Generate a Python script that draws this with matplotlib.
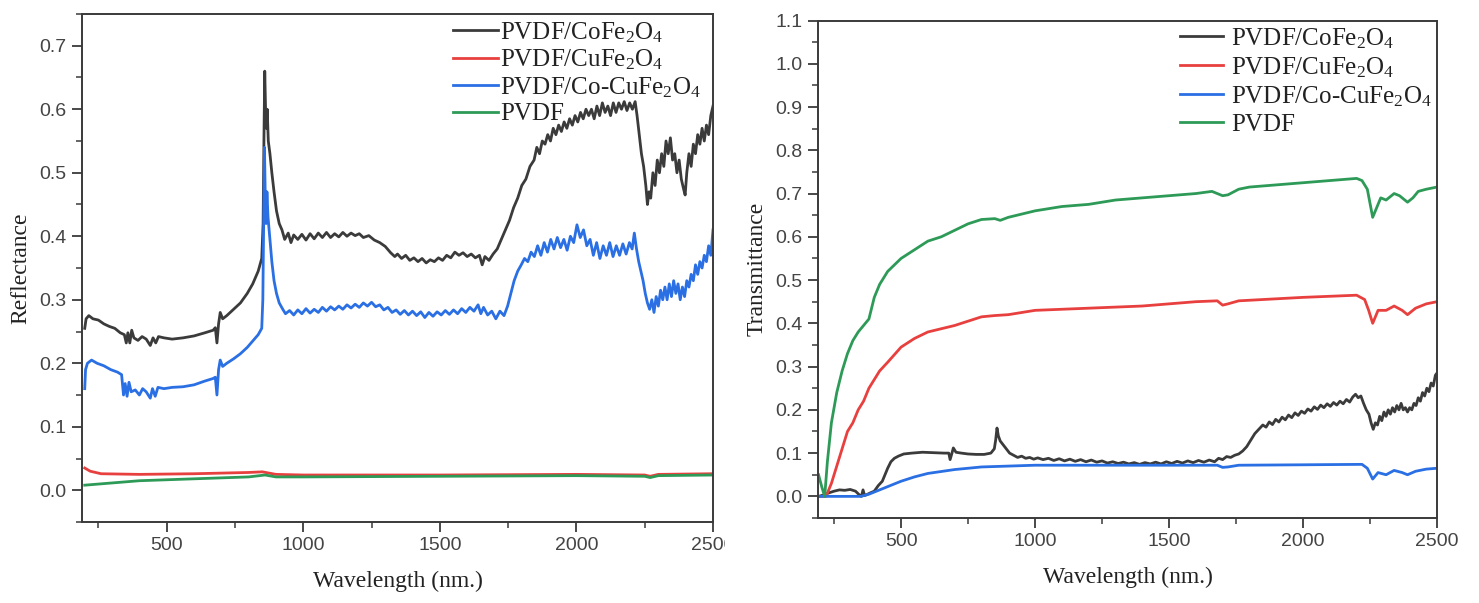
import numpy as np
import matplotlib
matplotlib.use("Agg")
import matplotlib.pyplot as plt
from matplotlib.ticker import MultipleLocator
from matplotlib.transforms import Bbox

plt.rcParams["mathtext.fontset"] = "custom"
plt.rcParams["mathtext.rm"] = "Liberation Serif"
plt.rcParams["mathtext.it"] = "Liberation Serif:italic"

labels = ["PVDF/CoFe$_2$O$_4$", "PVDF/CuFe$_2$O$_4$", "PVDF/Co-CuFe$_2$O$_4$", "PVDF"]
colors = ["#3b3b3b", "#e8403f", "#2a6fe3", "#2e9a57"]

# ---- reflectance spectra ----
refl_co_x = [200, 205, 215, 230, 250, 270, 290, 310, 330, 345, 352, 358, 365, 372, 380, 395, 410, 425, 440, 450,
             460, 470, 490, 520, 560, 600, 640, 670, 678, 684, 690, 696, 705, 720, 745, 770, 795, 815, 835, 848,
             853, 856, 859, 862, 865, 868, 872, 878, 885, 893, 902, 912, 922, 932, 945, 955, 965, 980, 995, 1010,
             1025, 1040, 1055, 1070, 1085, 1100, 1115, 1130, 1145, 1160, 1175, 1190, 1205, 1220, 1240, 1260, 1280,
             1300, 1320, 1335, 1345, 1360, 1375, 1390, 1405, 1420, 1435, 1450, 1465, 1480, 1495, 1510, 1525, 1540,
             1555, 1570, 1585, 1600, 1615, 1630, 1645, 1655, 1665, 1680, 1695, 1710, 1725, 1740, 1755, 1770, 1785,
             1800, 1815, 1830, 1845, 1855, 1865, 1875, 1885, 1895, 1905, 1915, 1925, 1935, 1945, 1955, 1965, 1975,
             1985, 1995, 2005, 2015, 2025, 2035, 2045, 2055, 2065, 2075, 2085, 2095, 2105, 2115, 2125, 2135, 2145,
             2155, 2165, 2175, 2185, 2195, 2205, 2215, 2222, 2230, 2238, 2246, 2254, 2260, 2266, 2272, 2280, 2288,
             2296, 2304, 2312, 2320, 2328, 2336, 2344, 2352, 2360, 2368, 2376, 2384, 2392, 2398, 2404, 2412, 2420,
             2428, 2436, 2444, 2452, 2460, 2468, 2476, 2484, 2492, 2500]
refl_co_y = [0.255, 0.27, 0.275, 0.27, 0.268, 0.262, 0.258, 0.255, 0.248, 0.245, 0.232, 0.248, 0.232, 0.252, 0.24,
             0.236, 0.242, 0.238, 0.228, 0.24, 0.232, 0.242, 0.24, 0.238, 0.24, 0.243, 0.248, 0.252, 0.256, 0.232,
             0.262, 0.28, 0.27, 0.275, 0.285, 0.295, 0.31, 0.325, 0.345, 0.365, 0.42, 0.55, 0.66, 0.6, 0.57, 0.6,
             0.55, 0.53, 0.5, 0.47, 0.44, 0.42, 0.41, 0.395, 0.405, 0.39, 0.402, 0.395, 0.403, 0.394, 0.404, 0.396,
             0.405, 0.398, 0.406, 0.398, 0.404, 0.399, 0.406, 0.4, 0.405, 0.401, 0.404, 0.398, 0.401, 0.394, 0.39,
             0.384, 0.374, 0.368, 0.372, 0.365, 0.37, 0.362, 0.366, 0.36, 0.365, 0.358, 0.363, 0.36, 0.366, 0.362,
             0.37, 0.366, 0.375, 0.37, 0.374, 0.368, 0.372, 0.366, 0.37, 0.355, 0.368, 0.362, 0.372, 0.38, 0.395,
             0.41, 0.425, 0.445, 0.46, 0.48, 0.49, 0.51, 0.52, 0.54, 0.53, 0.55, 0.545, 0.56, 0.55, 0.57, 0.56,
             0.575, 0.565, 0.58, 0.57, 0.585, 0.575, 0.59, 0.58, 0.595, 0.585, 0.6, 0.59, 0.6, 0.585, 0.605, 0.59,
             0.61, 0.595, 0.605, 0.59, 0.61, 0.595, 0.61, 0.6, 0.612, 0.598, 0.61, 0.6, 0.612, 0.59, 0.56, 0.53,
             0.51, 0.48, 0.45, 0.47, 0.46, 0.5, 0.48, 0.52, 0.5, 0.53, 0.51, 0.55, 0.53, 0.555, 0.52, 0.53, 0.5,
             0.52, 0.49, 0.475, 0.465, 0.5, 0.53, 0.51, 0.545, 0.53, 0.56, 0.545, 0.57, 0.55, 0.575, 0.56, 0.59,
             0.605]

refl_cu_x = [200, 220, 260, 400, 600, 800, 850, 900, 1000, 1500, 2000, 2250, 2270, 2300, 2500]
refl_cu_y = [0.035, 0.03, 0.026, 0.025, 0.026, 0.028, 0.029, 0.025, 0.024, 0.024, 0.025, 0.024, 0.022, 0.025, 0.026]

refl_coco_x = [200, 203, 210, 225, 245, 270, 295, 320, 335, 342, 348, 355, 362, 370, 385, 400, 412, 425, 440, 448,
               458, 468, 490, 520, 560, 600, 640, 670, 678, 684, 690, 696, 705, 720, 745, 770, 795, 815, 835, 848,
               852, 855, 858, 861, 864, 867, 871, 877, 885, 893, 902, 912, 925, 935, 950, 965, 980, 995, 1010,
               1025, 1040, 1055, 1070, 1085, 1100, 1115, 1130, 1145, 1160, 1175, 1190, 1205, 1220, 1235, 1250,
               1265, 1280, 1295, 1310, 1325, 1340, 1355, 1370, 1385, 1400, 1415, 1430, 1445, 1460, 1475, 1490,
               1505, 1520, 1535, 1550, 1565, 1580, 1595, 1610, 1625, 1640, 1650, 1660, 1675, 1690, 1705, 1720,
               1735, 1748, 1760, 1772, 1785, 1798, 1810, 1822, 1834, 1846, 1858, 1870, 1882, 1894, 1906, 1918,
               1930, 1942, 1954, 1966, 1978, 1990, 2002, 2014, 2026, 2038, 2050, 2062, 2074, 2086, 2098, 2110,
               2122, 2134, 2146, 2158, 2170, 2182, 2194, 2204, 2212, 2220, 2228, 2236, 2244, 2252, 2260, 2268,
               2276, 2284, 2292, 2300, 2308, 2316, 2324, 2332, 2340, 2348, 2356, 2364, 2372, 2380, 2388, 2396,
               2404, 2412, 2420, 2428, 2436, 2444, 2452, 2460, 2468, 2476, 2484, 2492, 2500]
refl_coco_y = [0.16, 0.19, 0.2, 0.205, 0.2, 0.196, 0.19, 0.186, 0.182, 0.15, 0.168, 0.148, 0.17, 0.155, 0.158, 0.15,
               0.16, 0.155, 0.145, 0.16, 0.148, 0.162, 0.16, 0.162, 0.163, 0.166, 0.172, 0.176, 0.178, 0.15, 0.19,
               0.205, 0.195, 0.2, 0.207, 0.215, 0.225, 0.235, 0.245, 0.255, 0.3, 0.42, 0.54, 0.46, 0.42, 0.47, 0.43,
               0.4, 0.36, 0.33, 0.31, 0.295, 0.285, 0.278, 0.283, 0.276, 0.284, 0.278, 0.286, 0.279, 0.285, 0.28,
               0.288, 0.282, 0.289, 0.284, 0.29, 0.285, 0.292, 0.287, 0.293, 0.288, 0.295, 0.29, 0.296, 0.289, 0.292,
               0.284, 0.288, 0.28, 0.284, 0.277, 0.283, 0.276, 0.282, 0.275, 0.281, 0.272, 0.28, 0.274, 0.281, 0.276,
               0.283, 0.277, 0.284, 0.278, 0.286, 0.28, 0.288, 0.282, 0.292, 0.278, 0.288, 0.276, 0.282, 0.27, 0.282,
               0.275, 0.29, 0.31, 0.33, 0.345, 0.355, 0.365, 0.36, 0.375, 0.368, 0.385, 0.37, 0.39, 0.375, 0.395,
               0.38, 0.398, 0.382, 0.395, 0.378, 0.4, 0.39, 0.418, 0.398, 0.41, 0.385, 0.395, 0.37, 0.39, 0.365,
               0.385, 0.37, 0.39, 0.368, 0.385, 0.37, 0.388, 0.372, 0.39, 0.38, 0.405, 0.38, 0.36, 0.345, 0.33, 0.31,
               0.295, 0.285, 0.3, 0.28, 0.305, 0.29, 0.315, 0.3, 0.32, 0.3, 0.325, 0.305, 0.33, 0.31, 0.325, 0.3,
               0.32, 0.305, 0.33, 0.32, 0.34, 0.33, 0.355, 0.34, 0.36, 0.35, 0.37, 0.36, 0.385, 0.37, 0.41]

refl_pvdf_x = [200, 400, 600, 800, 860, 900, 1000, 1500, 2000, 2250, 2270, 2300, 2500]
refl_pvdf_y = [0.008, 0.015, 0.018, 0.021, 0.024, 0.021, 0.021, 0.022, 0.023, 0.022, 0.02, 0.023, 0.024]

# ---- transmittance spectra ----
trans_co_x = [192, 210, 230, 250, 270, 290, 310, 330, 345, 352, 358, 364, 372, 385, 400, 415, 430, 440, 450, 462,
              475, 490, 510, 540, 580, 620, 660, 678, 683, 690, 695, 705, 725, 750, 780, 810, 835, 848, 853, 858,
              863, 870, 880, 892, 905, 920, 935, 950, 965, 980, 995, 1010, 1030, 1050, 1070, 1090, 1110, 1130,
              1150, 1170, 1190, 1210, 1230, 1250, 1270, 1290, 1310, 1330, 1350, 1370, 1390, 1410, 1430, 1450,
              1470, 1490, 1510, 1530, 1550, 1570, 1590, 1610, 1630, 1650, 1670, 1685, 1700, 1715, 1730, 1745,
              1760, 1775, 1790, 1805, 1820, 1835, 1850, 1862, 1874, 1886, 1898, 1910, 1922, 1934, 1946, 1958,
              1970, 1982, 1994, 2006, 2018, 2030, 2042, 2054, 2066, 2078, 2090, 2102, 2114, 2126, 2138, 2150,
              2162, 2174, 2186, 2196, 2206, 2216, 2226, 2236, 2246, 2254, 2262, 2270, 2278, 2286, 2294, 2302,
              2310, 2318, 2326, 2334, 2342, 2350, 2358, 2366, 2374, 2382, 2390, 2398, 2406, 2414, 2422, 2430,
              2438, 2446, 2454, 2462, 2470, 2478, 2486, 2494, 2500]
trans_co_y = [0.0, 0.003, 0.008, 0.012, 0.015, 0.014, 0.016, 0.012, 0.003, 0.0, 0.015, 0.002, 0.004, 0.008, 0.012,
              0.025, 0.035, 0.05, 0.065, 0.08, 0.088, 0.093, 0.098, 0.1, 0.102, 0.101, 0.1, 0.1, 0.085, 0.1, 0.112,
              0.102, 0.1, 0.098, 0.097, 0.097, 0.1, 0.11, 0.13, 0.158, 0.14, 0.128, 0.12, 0.11, 0.1, 0.095, 0.09,
              0.093, 0.088, 0.09, 0.086, 0.089, 0.085, 0.088, 0.083, 0.087, 0.082, 0.086, 0.081, 0.085, 0.08, 0.084,
              0.079, 0.082, 0.077, 0.08, 0.076, 0.079, 0.075, 0.078, 0.074, 0.078, 0.075, 0.079, 0.075, 0.08, 0.076,
              0.081, 0.077, 0.082, 0.078, 0.083, 0.079, 0.084, 0.08, 0.088, 0.085, 0.092, 0.09, 0.095, 0.098, 0.105,
              0.115, 0.13, 0.145, 0.155, 0.165, 0.16, 0.172, 0.166, 0.178, 0.172, 0.183, 0.177, 0.188, 0.182, 0.193,
              0.187, 0.197, 0.192, 0.202, 0.197, 0.207, 0.201, 0.211, 0.205, 0.214, 0.208, 0.217, 0.211, 0.22, 0.214,
              0.224, 0.218, 0.23, 0.236, 0.228, 0.232, 0.215, 0.2, 0.19, 0.17, 0.155, 0.17, 0.165, 0.185, 0.175,
              0.195, 0.185, 0.2, 0.19, 0.205, 0.195, 0.21, 0.2, 0.215, 0.2, 0.205, 0.195, 0.205, 0.2, 0.215, 0.21,
              0.228, 0.22, 0.24, 0.232, 0.25, 0.242, 0.262, 0.255, 0.28, 0.285]

trans_cu_x = [200, 220, 240, 260, 280, 300, 320, 340, 360, 380, 400, 420, 450, 500, 550, 600, 700, 800, 850, 900,
              1000, 1200, 1400, 1600, 1680, 1700, 1720, 1760, 2000, 2200, 2230, 2245, 2260, 2280, 2310, 2340, 2370,
              2390, 2420, 2460, 2500]
trans_cu_y = [0.0, 0.0, 0.03, 0.07, 0.11, 0.15, 0.17, 0.2, 0.22, 0.25, 0.27, 0.29, 0.31, 0.345, 0.365, 0.38, 0.395,
              0.415, 0.418, 0.42, 0.43, 0.435, 0.44, 0.45, 0.452, 0.442, 0.445, 0.452, 0.46, 0.465, 0.455, 0.43, 0.4,
              0.43, 0.43, 0.44, 0.43, 0.42, 0.435, 0.445, 0.45]

trans_coco_x = [192, 350, 380, 420, 460, 500, 550, 600, 700, 800, 900, 1000, 1500, 1680, 1700, 1720, 1760, 2000,
                2220, 2240, 2260, 2280, 2310, 2340, 2370, 2390, 2420, 2460, 2500]
trans_coco_y = [0.0, 0.0, 0.005, 0.015, 0.025, 0.035, 0.045, 0.053, 0.062, 0.068, 0.07, 0.072, 0.072, 0.072, 0.067,
                0.068, 0.072, 0.073, 0.074, 0.065, 0.04, 0.055, 0.05, 0.06, 0.055, 0.05, 0.058, 0.063, 0.065]

trans_pvdf_x = [192, 205, 215, 225, 240, 260, 280, 300, 320, 340, 360, 380, 400, 420, 450, 500, 550, 600, 650, 700,
                750, 800, 850, 870, 900, 1000, 1100, 1200, 1300, 1400, 1500, 1600, 1660, 1700, 1720, 1760, 1800,
                1900, 2000, 2100, 2200, 2220, 2240, 2260, 2270, 2290, 2310, 2340, 2360, 2390, 2410, 2430, 2460, 2500]
trans_pvdf_y = [0.05, 0.02, 0.0, 0.08, 0.17, 0.24, 0.29, 0.33, 0.36, 0.38, 0.395, 0.41, 0.46, 0.49, 0.52, 0.55,
                0.57, 0.59, 0.6, 0.615, 0.63, 0.64, 0.642, 0.638, 0.645, 0.66, 0.67, 0.675, 0.685, 0.69, 0.695, 0.7,
                0.705, 0.695, 0.697, 0.71, 0.715, 0.72, 0.725, 0.73, 0.735, 0.73, 0.71, 0.645, 0.66, 0.69, 0.685,
                0.7, 0.695, 0.68, 0.69, 0.705, 0.71, 0.715]

refl = [(refl_co_x, refl_co_y), (refl_cu_x, refl_cu_y), (refl_coco_x, refl_coco_y), (refl_pvdf_x, refl_pvdf_y)]
trans = [(trans_co_x, trans_co_y), (trans_cu_x, trans_cu_y), (trans_coco_x, trans_coco_y), (trans_pvdf_x, trans_pvdf_y)]

W, H = 1479, 603
fig = plt.figure(figsize=(W / 100, H / 100), dpi=100)
ax1 = fig.add_axes([82 / W, 1 - 522 / H, (713 - 82) / W, (522 - 14) / H])
ax2 = fig.add_axes([818 / W, 1 - 518 / H, (1437 - 818) / W, (518 - 20.5) / H])

serif = "Liberation Serif"
tick_color = "#3a3a3a"

for ax, series, ylab, ylim, ymaj in [(ax1, refl, "Reflectance", (-0.05, 0.75), 0.1),
                                     (ax2, trans, "Transmittance", (-0.05, 1.1), 0.1)]:
    for (x, y), lab, c in zip(series, labels, colors):
        ax.plot(np.array(x), np.array(y), color=c, lw=2.0, label=lab)
    ax.set_xlim(190, 2500)
    ax.set_ylim(*ylim)
    ax.set_xticks([500, 1000, 1500, 2000, 2500])
    ax.xaxis.set_minor_locator(MultipleLocator(250))
    ax.yaxis.set_major_locator(MultipleLocator(ymaj))
    ax.yaxis.set_minor_locator(MultipleLocator(ymaj / 2))
    ax.yaxis.set_major_formatter(matplotlib.ticker.FormatStrFormatter("%.1f"))
    ax.tick_params(which="major", direction="out", length=7, width=1.3, colors=tick_color,
                   labelsize=14, pad=4)
    ax.tick_params(which="minor", direction="out", length=4, width=1.1, colors=tick_color)
    for t in ax.get_xticklabels() + ax.get_yticklabels():
        t.set_fontfamily("Liberation Sans")
        t.set_color("#444444")
    for sp in ax.spines.values():
        sp.set_color(tick_color)
        sp.set_linewidth(1.4)
    ax.set_xlabel("Wavelength (nm.)", fontfamily=serif, fontsize=17, color="#222222", labelpad=12)
    ax.set_ylabel(ylab, fontfamily=serif, fontsize=17, color="#222222", labelpad=6)

leg_props = {"family": serif, "size": 18}
leg1 = ax1.legend(loc="upper left", bbox_to_anchor=(453 / W, 1 - 20 / H), bbox_transform=fig.transFigure,
                  frameon=False, prop=leg_props, handlelength=1.8, handletextpad=0.08, labelspacing=0.12,
                  borderpad=0, borderaxespad=0)
leg1.set_zorder(1)
for t in leg1.get_texts():
    t.set_color("#222222")

leg2 = ax2.legend(loc="upper left", bbox_to_anchor=(1180 / W, 1 - 26 / H), bbox_transform=fig.transFigure,
                  frameon=False, prop=leg_props, handlelength=1.7, handletextpad=0.35, labelspacing=0.18,
                  borderpad=0, borderaxespad=0)
for t in leg2.get_texts():
    t.set_color("#222222")

# the left panel's last tick label is cut at the panel edge
fig.canvas.draw()
last = ax1.get_xticklabels()[-1]
last.set_clip_box(Bbox.from_extents(0, 0, 725, H))
last.set_clip_on(True)

fig.savefig("out.png", dpi=100)
